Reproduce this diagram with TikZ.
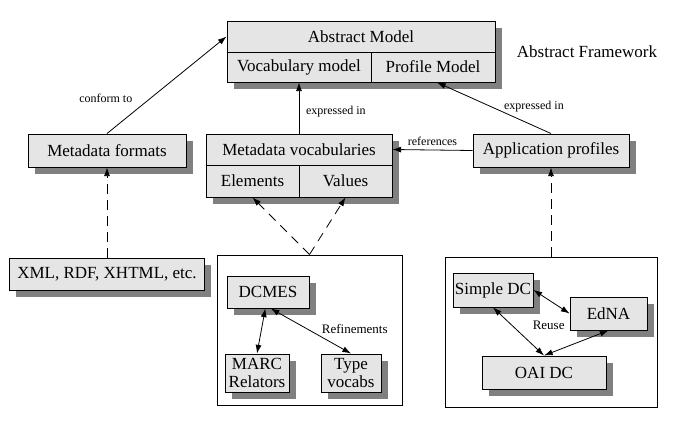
\documentclass[tikz,border=0pt]{standalone}
\usepackage{fontspec}
\setmainfont{Liberation Serif}
\usepackage{tikz}
\usetikzlibrary{arrows.meta}
\usetikzlibrary{shadows}
\usepackage{xcolor}

\definecolor{boxfill}{gray}{0.9}
\definecolor{boxshade}{gray}{0.5}
\tikzset{
  cell/.style={draw, line width=0.7pt, fill=boxfill, inner sep=0pt, align=center,
    font=\fontsize{12.75}{13.5}\selectfont,
    drop shadow={shadow xshift=5pt, shadow yshift=-5pt, fill=boxshade, opacity=1}},
  groupbox/.style={draw, line width=0.7pt, inner sep=0pt},
  lbl/.style={font=\fontsize{9}{10}\selectfont, inner sep=1pt},
  biglbl/.style={font=\fontsize{9.75}{11}\selectfont, inner sep=1pt},
  link/.style={line width=0.6pt, >={Latex[length=6.5pt, width=4.5pt]}},
  dashlink/.style={link, dash pattern=on 7pt off 5pt},
}

\begin{document}
\begin{tikzpicture}[x=0.75pt, y=-0.75pt]
    \useasboundingbox (0,0) rectangle (700,432);
    % Abstract Model
    \node[cell, minimum width=201pt, minimum height=23.25pt] (am) at (361,36.5) {Abstract Model};
    \node[cell, minimum width=108pt, minimum height=22.5pt] (vm) at (299,67) {Vocabulary model};
    \node[cell, minimum width=93pt, minimum height=22.5pt] (pm) at (433,67) {Profile Model};
    \node[font=\fontsize{12.75}{14}\selectfont] (fw) at (587,52) {Abstract Framework};
    % middle row
    \node[cell, minimum width=118.5pt, minimum height=24.75pt] (mf) at (107,150.5) {Metadata formats};
    \node[cell, minimum width=139.5pt, minimum height=23.25pt] (mv) at (299,149.5) {Metadata vocabularies};
    \node[cell, minimum width=69.75pt, minimum height=24pt] (el) at (252.5,181) {Elements};
    \node[cell, minimum width=69.75pt, minimum height=24pt] (va) at (345.5,181) {Values};
    \node[cell, minimum width=117pt, minimum height=24.75pt] (ap) at (551,150.5) {Application profiles};
    % bottom row
    \node[cell, minimum width=146.25pt, minimum height=24pt] (xml) at (107,274) {XML, RDF, XHTML, etc.};
    \node[groupbox, minimum width=138.75pt, minimum height=112.5pt] (vocs) at (309.5,330) {};
    \node[groupbox, minimum width=159pt, minimum height=112.5pt] (profs) at (551,332) {};
    % vocabularies
    \node[cell, minimum width=61.5pt, minimum height=24pt] (dcmes) at (268,292) {DCMES};
    \node[cell, minimum width=48pt, minimum height=28.5pt] (marc) at (257,373) {MARC\\Relators};
    \node[cell, minimum width=45pt, minimum height=28.5pt] (type) at (351,373) {Type\\vocabs};
    % profiles
    \node[cell, minimum width=60pt, minimum height=25.5pt] (sdc) at (493,290) {Simple DC};
    \node[cell, minimum width=57.75pt, minimum height=24.75pt] (edna) at (608.5,313.5) {EdNA};
    \node[cell, minimum width=93pt, minimum height=24.75pt] (oai) at (544,372.5) {OAI DC};
    % links
    \draw[link, ->] (mf.north) -- (am.west) node[lbl, pos=0.36, left=12pt] {conform to};
    \draw[link, ->] (mv.north) -- (vm.south) node[lbl, pos=0.42, right=4pt] {expressed in};
    \draw[link, ->] (ap.north) -- ([xshift=3pt]pm.south) node[lbl, pos=0.52, right=8pt] {expressed in};
    \draw[link, ->] (ap.west) -- (mv.east) node[lbl, midway, above=2pt] {references};
    \draw[dashlink, ->] (xml.north) -- (mf.south);
    \draw[dashlink, ->] (vocs.north) -- (el.south);
    \draw[dashlink, ->] (vocs.north) -- (va.south);
    \draw[dashlink, ->] (profs.north) -- (ap.south);
    % refinements
    \draw[link, <->] ([xshift=-2pt]dcmes.south) -- (marc.north);
    \draw[link, <->] ([xshift=2pt]dcmes.south) -- (type.north) node[biglbl, pos=0.45, right=10pt] {Refinements};
    % reuse
    \draw[link, <->] (sdc.east) -- (edna.west);
    \draw[link, <->] (sdc.south) -- (oai.north) node[biglbl, pos=0.38, right=14pt] {Reuse};
    \draw[link, <->] (edna.south) -- (oai.north);
\end{tikzpicture}
\end{document}
